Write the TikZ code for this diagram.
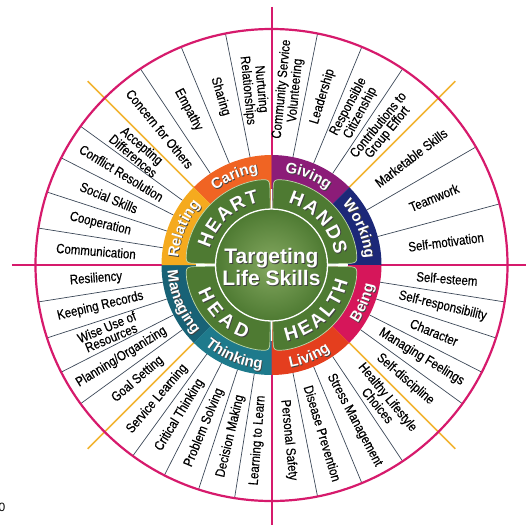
\documentclass[tikz,border=0pt]{standalone}
\usepackage{fontspec}
\setmainfont{Liberation Sans}
\usetikzlibrary{decorations.text}
\newfontfamily\lsans{Liberation Sans}
\newfontfamily\lsansnarrow[FakeStretch=0.85,FakeBold=0.35]{Liberation Sans}
\newcommand\myskillfont{\lsansnarrow\fontsize{13.5}{11.5}\selectfont}
\newcommand\mybandfont{\lsans\bfseries\fontsize{15}{15}\selectfont}
\newcommand\mypetalfont{\lsans\bfseries\fontsize{19}{19}\selectfont}
\newcommand\mycenterfont{\lsans\bfseries\fontsize{21}{22}\selectfont}
\definecolor{wmag}{RGB}{214,26,108}
\definecolor{wyel}{RGB}{242,180,50}
\definecolor{wdiv}{RGB}{60,72,88}
\definecolor{cCaring}{RGB}{240,100,35}
\definecolor{cGiving}{RGB}{140,28,120}
\definecolor{cWorking}{RGB}{28,40,120}
\definecolor{cBeing}{RGB}{214,22,90}
\definecolor{cLiving}{RGB}{228,62,30}
\definecolor{cThinking}{RGB}{30,122,140}
\definecolor{cManaging}{RGB}{24,98,118}
\definecolor{cRelating}{RGB}{245,170,30}
\definecolor{cPetal}{RGB}{78,122,50}
\definecolor{cPetalEdge}{RGB}{190,215,170}
\definecolor{cInner}{RGB}{132,168,96}
\begin{document}
\begin{tikzpicture}[x=1pt,y=1pt,
  skill/.style={font=\myskillfont, align=center, inner sep=0pt, text=black},
  divline/.style={draw=wdiv, line width=0.7},
  axisline/.style={draw=wmag, line width=2},
  yelline/.style={draw=wyel, line width=1.5},
  bandlab/.style n args={2}{decorate, decoration={text along path, text align=center, text={|\color{#1}\mybandfont|#2}}},
  petallab/.style n args={2}{decorate, decoration={text along path, text align={fit to path}, text={|\color{#1}\mypetalfont|#2}}},
  centertxt/.style={font=\mycenterfont, align=center, inner sep=0pt}
]
\useasboundingbox (-271.5,-260) rectangle (254.5,265);

% axis lines
\draw[axisline] (-259.5,0) -- (254.5,0);
\draw[axisline] (0,258) -- (0,-260);

% divider lines
\foreach \a in {171,162,153,144,123.75,112.5,101.25,78.75,67.5,56.25,30,15,
  -9,-18,-27,-36,-56.25,-67.5,-78.75,-99,-108,-117,-126,-144,-153,-162,-171}
  \draw[divline] (\a:110) -- (\a:236);

% yellow lines
\foreach \a in {45,135,225,315}
  \draw[yelline] (\a:110) -- (\a:260);

% outer circle
\draw[wmag, line width=2.2] (0,0) circle[radius=236];

% coloured bands
\foreach \s/\c in {90/cCaring,45/cGiving,0/cWorking,-45/cBeing,-90/cLiving,-135/cThinking,-180/cManaging,135/cRelating}
  \fill[\c] (\s:50) arc[start angle=\s, end angle=\s+45, radius=50]
     -- (\s+45:110) arc[start angle=\s+45, end angle=\s, radius=110] -- cycle;

% white gaps between petals
\foreach \a in {0,90,180,270}
  \draw[white, line width=1.8] (\a:50) -- (\a:76);

% petals
\foreach \q in {0,90,180,270}{
  \pgfmathsetmacro\ta{\q+1.2}
  \pgfmathsetmacro\tb{\q+88.8}
  \pgfmathsetmacro\tc{\q+9.5}
  \pgfmathsetmacro\td{\q+80.5}
  \filldraw[fill=cPetal, draw=cPetalEdge, line width=0.7]
    (\ta:45) -- (\ta:73) .. controls (\ta:86) .. (\tc:86)
    arc[start angle=\tc, end angle=\td, radius=86]
    .. controls (\tb:86) .. (\tb:73) -- (\tb:45) -- cycle;
}

% inner circle
\shade[inner color=cInner, outer color=cPetal] (0,0) circle[radius=56];
\draw[white, line width=1.3] (0,0) circle[radius=56];

% band labels (upper: clockwise, lower: counter-clockwise)
\foreach \s/\e/\t in {135/90/Caring,90/45/Giving,45/0/Working,180/135/Relating}{
  \path[shift={(0.8,-0.8)}, bandlab={black!75}{\t}] (\s:93.5) arc[start angle=\s, end angle=\e, radius=93.5];
  \path[bandlab={white}{\t}] (\s:93.5) arc[start angle=\s, end angle=\e, radius=93.5];
}
\foreach \s/\e/\t in {-45/0/Being,-90/-45/Living,-135/-90/Thinking,-180/-135/Managing}{
  \path[shift={(0.8,-0.8)}, bandlab={black!75}{\t}] (\s:104) arc[start angle=\s, end angle=\e, radius=104];
  \path[bandlab={white}{\t}] (\s:104) arc[start angle=\s, end angle=\e, radius=104];
}

% petal labels
\foreach \s/\e/\r/\t in {165/101/64/HEART,75/9/64/HANDS,-160/-109.5/78/HEAD,-79/-12/78/HEALTH}{
  \path[shift={(0.9,-0.9)}, petallab={black!75}{\t}] (\s:\r) arc[start angle=\s, end angle=\e, radius=\r];
  \path[petallab={white}{\t}] (\s:\r) arc[start angle=\s, end angle=\e, radius=\r];
}

% centre text
\node[centertxt, text=black!75] (ctrsh) at (1,-3) {Targeting\\Life Skills};
\node[centertxt, text=white] (ctr) at (0,-2) {Targeting\\Life Skills};

% skills
\foreach \a/\t [count=\i] in {
  175.5/Communication, 166.5/Cooperation, 157.5/Social Skills, 148.5/Conflict Resolution,
  139.5/{Accepting\\Differences},
  129.375/Concern for Others, 118.125/Empathy, 106.875/Sharing, 95.625/{Nurturing\\Relationships},
  84.375/{Community Service\\Volunteering}, 73.125/Leadership, 61.875/{Responsible\\Citizenship},
  50.625/{Contributions to\\Group Effort},
  37.5/Marketable Skills, 22.5/Teamwork, 7.5/Self-motivation,
  -4.5/Self-esteem, -13.5/Self-responsibility, -22.5/Character, -31.5/Managing Feelings,
  -40.5/Self-discipline,
  -50.625/{Healthy Lifestyle\\Choices}, -61.875/Stress Management, -73.125/Disease Prevention,
  -84.375/Personal Safety,
  -94.5/Learning to Learn, -103.5/Decision Making, -112.5/Problem Solving, -121.5/Critical Thinking,
  -130.5/Service Learning,
  -139.5/Goal Setting, -148.5/{Planning/Organizing}, -157.5/{Wise Use of\\Resources},
  -166.5/Keeping Records, -175.5/Resiliency}{
  \pgfmathsetmacro\rot{cos(\a)>=0 ? \a : \a+180}
  \node[skill, rotate=\rot] (sk\i) at (\a:176) {\t};
}

% stray mark at bottom left
\node[font=\lsans\fontsize{12}{12}\selectfont, anchor=east, inner sep=0pt] (stray) at (-266,-242) {0};
\end{tikzpicture}
\end{document}
